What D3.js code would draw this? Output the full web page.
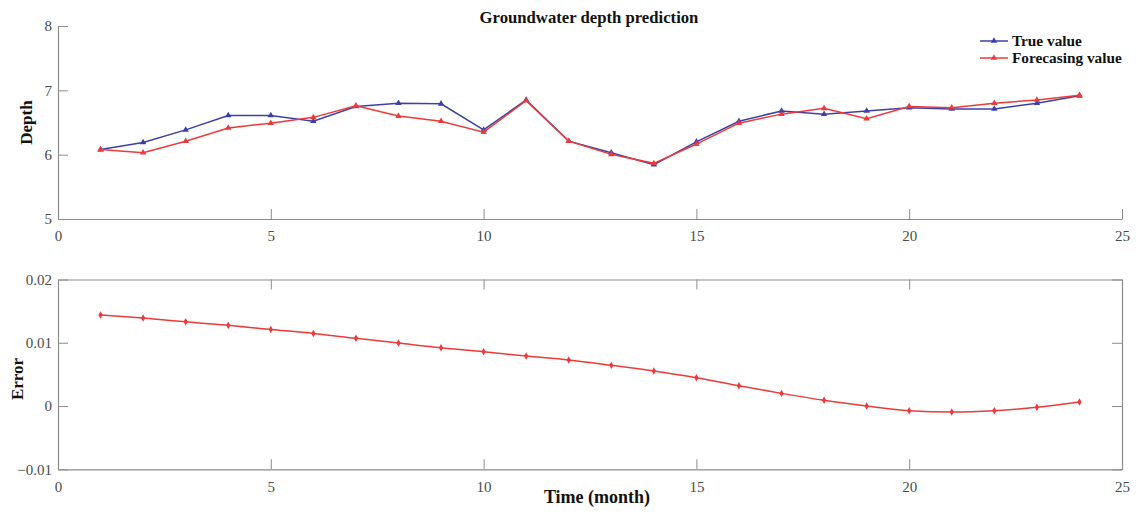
<!DOCTYPE html>
<html>
<head>
<meta charset="utf-8">
<script src="https://cdn.jsdelivr.net/npm/d3@7"></script>
<style>
  html, body { margin: 0; padding: 0; background: #fff; }
  svg { display: block; font-family: "Liberation Serif", "Times New Roman", serif; }
</style>
</head>
<body>
<svg id="chart" width="1137" height="516"></svg>
<script>
// Monthly groundwater depth: observed vs forecast, and the model error
const months = d3.range(1, 25);
const trueValue = [6.08, 6.19, 6.385, 6.61, 6.61, 6.52, 6.75, 6.80, 6.79, 6.385, 6.85, 6.21,
                   6.03, 5.845, 6.20, 6.52, 6.68, 6.63, 6.68, 6.73, 6.71, 6.71, 6.80, 6.915];
const forecastValue = [6.08, 6.03, 6.21, 6.415, 6.49, 6.58, 6.76, 6.60, 6.52, 6.35, 6.84, 6.21,
                       6.005, 5.865, 6.165, 6.49, 6.63, 6.72, 6.56, 6.75, 6.73, 6.80, 6.85, 6.925];
const errorValue = [0.0144, 0.0139, 0.01332, 0.01275, 0.01211, 0.01148, 0.0107, 0.00995, 0.0092, 0.00858,
                    0.0079, 0.00727, 0.00643, 0.00553, 0.00447, 0.00321, 0.0020, 0.0009, 0.0,
                    -0.00074, -0.00095, -0.00074, -0.0002, 0.00063];
const xTicks = [0, 5, 10, 15, 20, 25];
const depthTicks = [5, 6, 7, 8];
const errorTicks = [-0.01, 0, 0.01, 0.02];
const seriesNames = ["True value", "Forecasing value"];

const BLUE = "#3d3fa8";
const RED = "#ec3a3a";
const AXIS = "#8c8c8c";
const TEXT = "#4a4a4a";

const svg = d3.select("#chart");

const x = d3.scaleLinear().domain([0, 25]).range([58, 1122]);
const yDepth = d3.scaleLinear().domain([5, 8]).range([219, 26]);
const yErr = d3.scaleLinear().domain([-0.01, 0.02]).range([469.3, 279.5]);

const TICK = 10;

function styleAxis(g) {
  g.selectAll(".domain").attr("stroke", AXIS).attr("stroke-width", 1.2);
  g.selectAll(".tick line").attr("stroke", AXIS).attr("stroke-width", 1);
  g.selectAll(".tick text").attr("fill", TEXT).attr("font-size", 15)
    .attr("font-family", "Liberation Serif, serif");
}

// ---------- Upper panel: depth ----------
const depthPanel = svg.append("g");

depthPanel.append("g")
  .attr("transform", `translate(0,${yDepth(5)})`)
  .call(d3.axisBottom(x).tickValues(xTicks).tickFormat(d3.format("d"))
    .tickSizeInner(-TICK).tickSizeOuter(0).tickPadding(8))
  .call(styleAxis)
  .call(g => g.selectAll(".tick text").attr("dy", "0.95em"));

depthPanel.append("g")
  .attr("transform", `translate(${x(0)},0)`)
  .call(d3.axisLeft(yDepth).tickValues(depthTicks).tickFormat(d3.format("d"))
    .tickSizeInner(-TICK).tickSizeOuter(0).tickPadding(6))
  .call(styleAxis);

const lineDepth = d3.line().x((d, i) => x(months[i])).y(d => yDepth(d));
const tri = d3.symbol().type(d3.symbolTriangle).size(18);

function drawSeries(values, color) {
  depthPanel.append("path").datum(values)
    .attr("fill", "none").attr("stroke", color).attr("stroke-width", 1.5)
    .attr("d", lineDepth);
  depthPanel.append("g").selectAll("path").data(values).join("path")
    .attr("d", tri)
    .attr("fill", color)
    .attr("transform", (d, i) => `translate(${x(months[i])},${yDepth(d)})`);
}
drawSeries(trueValue, BLUE);
drawSeries(forecastValue, RED);

depthPanel.append("text")
  .attr("x", 589).attr("y", 23)
  .attr("text-anchor", "middle")
  .attr("font-weight", "bold").attr("font-size", 16.7).attr("fill", "#111")
  .text("Groundwater depth prediction");

depthPanel.append("text")
  .attr("transform", `translate(32,${(yDepth(5) + yDepth(8)) / 2}) rotate(-90)`)
  .attr("text-anchor", "middle")
  .attr("font-weight", "bold").attr("font-size", 17).attr("fill", "#111")
  .text("Depth");

// Legend
const legend = depthPanel.append("g").attr("transform", "translate(980,41)");
[BLUE, RED].forEach((c, i) => {
  const g = legend.append("g").attr("transform", `translate(0,${i * 17})`);
  g.append("line").attr("x1", 0).attr("x2", 28).attr("y1", 0).attr("y2", 0)
    .attr("stroke", c).attr("stroke-width", 1.5);
  g.append("path").attr("d", tri).attr("fill", c).attr("transform", "translate(14,0)");
  g.append("text").attr("x", 32).attr("y", 5)
    .attr("font-weight", "bold").attr("font-size", 15.3).attr("fill", "#111")
    .text(seriesNames[i]);
});

// ---------- Lower panel: error ----------
const errPanel = svg.append("g");

errPanel.append("g")
  .attr("transform", `translate(0,${yErr(-0.01)})`)
  .call(d3.axisBottom(x).tickValues(xTicks).tickFormat(d3.format("d"))
    .tickSizeInner(-TICK).tickSizeOuter(0).tickPadding(8))
  .call(styleAxis)
  .call(g => g.selectAll(".tick text").attr("dy", "0.95em"));

errPanel.append("g")
  .attr("transform", `translate(0,${yErr(0.02)})`)
  .call(d3.axisTop(x).tickValues(xTicks).tickFormat("")
    .tickSizeInner(-TICK).tickSizeOuter(0))
  .call(styleAxis);

errPanel.append("g")
  .attr("transform", `translate(${x(0)},0)`)
  .call(d3.axisLeft(yErr).tickValues(errorTicks).tickFormat(d => d === 0 ? "0" : d3.format(".2f")(d))
    .tickSizeInner(-TICK).tickSizeOuter(0).tickPadding(6))
  .call(styleAxis);

errPanel.append("g")
  .attr("transform", `translate(${x(25)},0)`)
  .call(d3.axisRight(yErr).tickValues(errorTicks).tickFormat("")
    .tickSizeInner(-TICK).tickSizeOuter(0))
  .call(styleAxis);

const lineErr = d3.line().curve(d3.curveMonotoneX).x((d, i) => x(months[i])).y(d => yErr(d));
errPanel.append("path").datum(errorValue)
  .attr("fill", "none").attr("stroke", RED).attr("stroke-width", 1.5)
  .attr("d", lineErr);
const dia = d3.symbol().type(d3.symbolDiamond).size(16);
errPanel.append("g").selectAll("path").data(errorValue).join("path")
  .attr("d", dia).attr("fill", RED)
  .attr("transform", (d, i) => `translate(${x(months[i])},${yErr(d)})`);

errPanel.append("text")
  .attr("transform", `translate(23,379) rotate(-90)`)
  .attr("text-anchor", "middle")
  .attr("font-weight", "bold").attr("font-size", 17).attr("fill", "#111")
  .text("Error");

errPanel.append("text")
  .attr("x", 597).attr("y", 503)
  .attr("text-anchor", "middle")
  .attr("font-weight", "bold").attr("font-size", 18).attr("fill", "#111")
  .text("Time (month)");
</script>
</body>
</html>
